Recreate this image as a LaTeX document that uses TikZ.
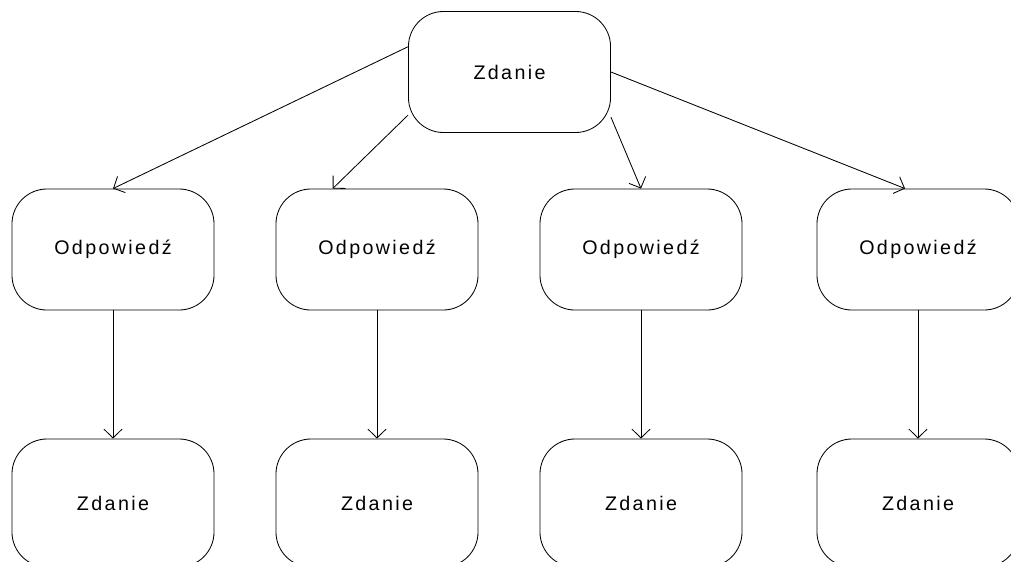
\documentclass[tikz,border=0pt]{standalone}
\usepackage{fontspec}
\setmainfont{Liberation Sans}[LetterSpace=12]
\usepackage{tikz}
\usetikzlibrary{arrows.meta}

\begin{document}
\begin{tikzpicture}[x=0.025cm, y=-0.025cm, line width=0.6pt,
        bloc/.style={rectangle, draw = black, rounded corners = 0.875cm, minimum width = 5.05cm, minimum height = 3.025cm, font = \fontsize{14}{16}\selectfont},
        fleche/.style={-{Straight Barb[length = 0.22cm, width = 0.45cm]}}]
        \useasboundingbox (0,0) rectangle (1011,561);

        \node (zdanie) [bloc] at (509.5, 72) {Zdanie};

        \foreach \i/\x in {1/113, 2/377, 3/641, 4/918}
        {
            \node (odp\i) [bloc] at (\x, 249.5) {Odpowiedź};
            \node (zd\i) [bloc, minimum height = 3.2cm] at (\x, 503) {Zdanie};
            \draw [fleche] (odp\i.south) -- (zd\i.north);
        }

        \draw [fleche] (zdanie.166) -- (odp1.north);
        \draw [fleche] (zdanie.203) -- (odp2.126);
        \draw [fleche] (zdanie.336) -- (odp3.north);
        \draw [fleche] (zdanie.east) -- (odp4.102);
    \end{tikzpicture}
\end{document}
